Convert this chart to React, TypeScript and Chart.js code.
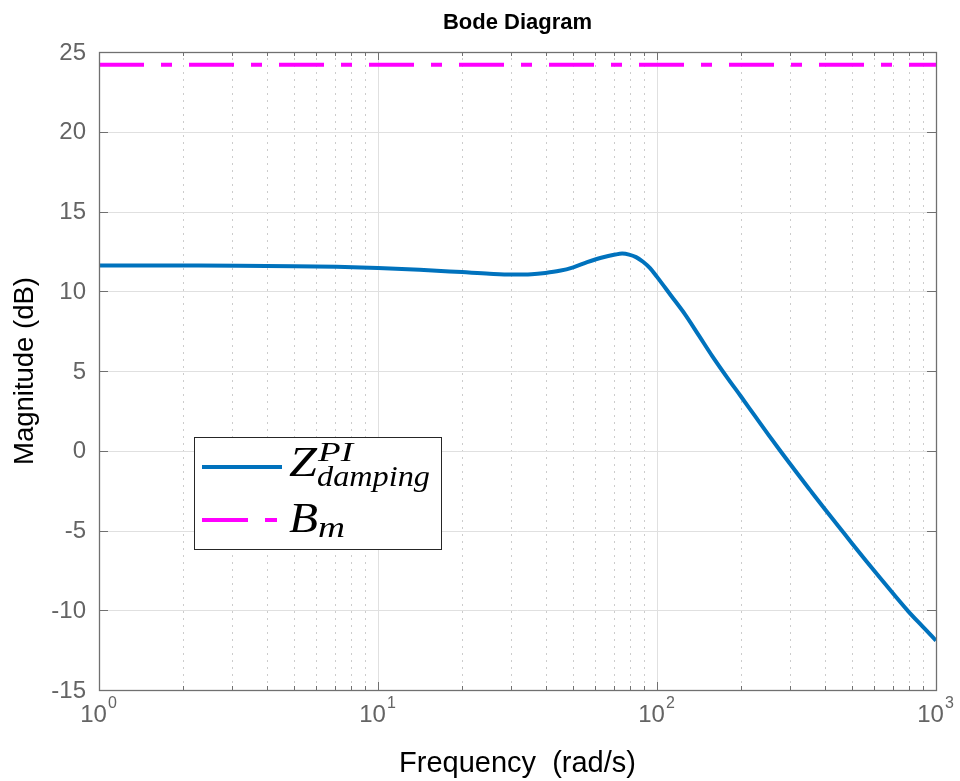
import React, { useEffect, useRef } from "react";
import { Chart, registerables } from "chart.js";

Chart.register(...registerables);

// ---- data ----
const freq = [1, 2, 3.16, 5, 7.1, 10, 14.1, 20, 25.1, 30.2, 35.5, 39.8, 44.7, 50.1, 56.2, 63.1, 70.8, 75, 79.4, 84.1, 89.1, 94.4, 100, 112, 126, 141, 158, 178, 200, 224, 251, 282, 316, 355, 398, 447, 501, 562, 631, 708, 794, 891, 1000];
const magDb = [11.62, 11.61, 11.6, 11.57, 11.53, 11.46, 11.35, 11.2, 11.1, 11.05, 11.07, 11.15, 11.28, 11.5, 11.82, 12.1, 12.3, 12.36, 12.3, 12.14, 11.85, 11.45, 10.9, 9.75, 8.55, 7.25, 5.92, 4.62, 3.4, 2.2, 1.0, -0.2, -1.35, -2.5, -3.62, -4.73, -5.83, -6.91, -7.98, -9.03, -10.05, -10.98, -11.9];
const bmFreq = [1, 1000];
const bmDb = [24.2, 24.2];

const yTicks = [-15, -10, -5, 0, 5, 10, 15, 20, 25];
const xDecadeExps = [0, 1, 2, 3];
const minorMultipliers = [2, 3, 4, 5, 6, 7, 8, 9];

const titleText = "Bode Diagram";
const xLabel = "Frequency  (rad/s)";
const yLabel = "Magnitude (dB)";
const legendBase = ["Z", "B"];
const legendSup = ["PI", ""];
const legendSub = ["damping", "m"];

const BLUE = "#0072BD";
const MAGENTA = "#FF00FF";
const SANS = "Arial, 'Liberation Sans', Helvetica, sans-serif";
const SERIF = "'Liberation Serif', 'Times New Roman', serif";

function fitText(ctx: CanvasRenderingContext2D, t: string, x: number, y: number, target: number) {
  const w = ctx.measureText(t).width;
  ctx.save();
  ctx.translate(x, y);
  ctx.scale(target / w, 1);
  ctx.fillText(t, 0, 0);
  ctx.restore();
}

const matlabPlugin = {
  id: "matlabAxes",
  beforeDraw(chart: any) {
    const ctx = chart.ctx;
    ctx.save();
    ctx.fillStyle = "#ffffff";
    ctx.fillRect(0, 0, chart.width, chart.height);
    ctx.restore();
  },
  beforeDatasetsDraw(chart: any) {
    const ctx: CanvasRenderingContext2D = chart.ctx;
    const a = chart.chartArea;
    const xs = chart.scales.x;
    const ys = chart.scales.y;
    ctx.save();
    // minor dotted grid
    ctx.strokeStyle = "#cccccc";
    ctx.lineWidth = 1;
    ctx.setLineDash([2, 5]);
    for (let d = 0; d < 3; d++) {
      for (const m of minorMultipliers) {
        const px = Math.round(xs.getPixelForValue(m * Math.pow(10, d))) + 0.5;
        ctx.beginPath();
        ctx.moveTo(px, a.bottom);
        ctx.lineTo(px, a.top);
        ctx.stroke();
      }
    }
    ctx.setLineDash([]);
    // major grid
    ctx.strokeStyle = "#e0e0e0";
    for (const e of xDecadeExps) {
      const px = Math.round(xs.getPixelForValue(Math.pow(10, e))) + 0.5;
      ctx.beginPath();
      ctx.moveTo(px, a.top);
      ctx.lineTo(px, a.bottom);
      ctx.stroke();
    }
    for (const v of yTicks) {
      const py = Math.round(ys.getPixelForValue(v)) + 0.5;
      ctx.beginPath();
      ctx.moveTo(a.left, py);
      ctx.lineTo(a.right, py);
      ctx.stroke();
    }
    ctx.restore();
  },
  afterDatasetsDraw(chart: any) {
    const ctx: CanvasRenderingContext2D = chart.ctx;
    const a = chart.chartArea;
    const xs = chart.scales.x;
    const ys = chart.scales.y;
    ctx.save();
    const axisColor = "#707070";
    ctx.strokeStyle = axisColor;
    ctx.lineWidth = 1.3;
    ctx.strokeRect(Math.round(a.left) + 0.5, Math.round(a.top) + 0.5, Math.round(a.right - a.left), Math.round(a.bottom - a.top));
    ctx.lineWidth = 1;
    const drawXTick = (v: number, len: number) => {
      const px = Math.round(xs.getPixelForValue(v)) + 0.5;
      ctx.beginPath();
      ctx.moveTo(px, a.bottom);
      ctx.lineTo(px, a.bottom - len);
      ctx.moveTo(px, a.top);
      ctx.lineTo(px, a.top + len);
      ctx.stroke();
    };
    for (let d = 0; d < 3; d++) for (const m of minorMultipliers) drawXTick(m * Math.pow(10, d), 4);
    for (const e of xDecadeExps) drawXTick(Math.pow(10, e), 8);
    for (const v of yTicks) {
      const py = Math.round(ys.getPixelForValue(v)) + 0.5;
      ctx.beginPath();
      ctx.moveTo(a.left, py);
      ctx.lineTo(a.left + 9, py);
      ctx.moveTo(a.right, py);
      ctx.lineTo(a.right - 9, py);
      ctx.stroke();
    }
    // y tick labels
    ctx.fillStyle = "#646464";
    ctx.font = `24px ${SANS}`;
    ctx.textAlign = "right";
    ctx.textBaseline = "middle";
    for (const v of yTicks) {
      ctx.fillText(String(v), a.left - 13, ys.getPixelForValue(v) + 1);
    }
    // x tick labels 10^e
    ctx.textBaseline = "alphabetic";
    ctx.textAlign = "left";
    for (const e of xDecadeExps) {
      const px = xs.getPixelForValue(Math.pow(10, e));
      ctx.font = `24px ${SANS}`;
      const wb = ctx.measureText("10").width;
      ctx.font = `16px ${SANS}`;
      const we = ctx.measureText(String(e)).width;
      const left = px - (wb + we) / 2 - 1;
      ctx.font = `24px ${SANS}`;
      ctx.fillText("10", left, 722);
      ctx.font = `16px ${SANS}`;
      ctx.fillText(String(e), left + wb + 1, 708);
    }
    // axis labels
    ctx.fillStyle = "#000000";
    ctx.font = `29px ${SANS}`;
    ctx.textAlign = "center";
    ctx.fillText(xLabel, (a.left + a.right) / 2, 772);
    ctx.save();
    ctx.font = `27.5px ${SANS}`;
    ctx.translate(33, (a.top + a.bottom) / 2);
    ctx.rotate(-Math.PI / 2);
    ctx.fillText(yLabel, 0, 0);
    ctx.restore();
    // title
    ctx.font = `bold 22px ${SANS}`;
    ctx.fillText(titleText, (a.left + a.right) / 2, 29);

    // legend
    const lx = 194, ly = 437, lw = 247, lh = 112;
    ctx.fillStyle = "#ffffff";
    ctx.fillRect(lx, ly, lw, lh);
    ctx.strokeStyle = "#262626";
    ctx.lineWidth = 1;
    ctx.strokeRect(lx + 0.5, ly + 0.5, lw, lh);
    ctx.lineWidth = 4;
    ctx.strokeStyle = BLUE;
    ctx.beginPath();
    ctx.moveTo(202, 467);
    ctx.lineTo(282, 467);
    ctx.stroke();
    ctx.strokeStyle = MAGENTA;
    ctx.setLineDash([46, 17, 12, 17]);
    ctx.beginPath();
    ctx.moveTo(202, 520);
    ctx.lineTo(277, 520);
    ctx.stroke();
    ctx.setLineDash([]);
    ctx.fillStyle = "#000000";
    ctx.textAlign = "left";
    ctx.font = `italic 42px ${SERIF}`;
    fitText(ctx, legendBase[0], 289, 476, 28);
    ctx.font = `italic 27px ${SERIF}`;
    fitText(ctx, legendSup[0], 318, 461, 35);
    ctx.font = `italic 29px ${SERIF}`;
    fitText(ctx, legendSub[0], 317, 486, 113);
    ctx.font = `italic 42px ${SERIF}`;
    fitText(ctx, legendBase[1], 289, 532, 29);
    ctx.font = `italic 29px ${SERIF}`;
    fitText(ctx, legendSub[1], 318, 537, 27);
    ctx.restore();
  },
};

export default function App() {
  const ref = useRef<HTMLCanvasElement | null>(null);
  useEffect(() => {
    if (!ref.current) return;
    const chart = new Chart(ref.current, {
      type: "line",
      data: {
        datasets: [
          {
            label: "Z_damping^PI",
            data: freq.map((f, i) => ({ x: f, y: magDb[i] })),
            borderColor: BLUE,
            borderWidth: 4,
            pointRadius: 0,
            cubicInterpolationMode: "monotone",
            fill: false,
          },
          {
            label: "B_m",
            data: bmFreq.map((f, i) => ({ x: f, y: bmDb[i] })),
            borderColor: MAGENTA,
            borderWidth: 4,
            borderDash: [45, 17, 11, 17],
            pointRadius: 0,
            fill: false,
          },
        ],
      },
      options: {
        responsive: false,
        animation: false,
        devicePixelRatio: 1,
        layout: { padding: { left: 99, right: 24, top: 52, bottom: 91 } },
        scales: {
          x: { type: "logarithmic", min: 1, max: 1000, display: false },
          y: { type: "linear", min: -15, max: 25, display: false },
        },
        plugins: {
          legend: { display: false },
          title: { display: false },
          tooltip: { enabled: false },
        },
        events: [],
      },
      plugins: [matlabPlugin],
    } as any);
    return () => chart.destroy();
  }, []);
  return (
    <div style={{ position: "absolute", left: 0, top: 0, width: 960, height: 781, background: "#fff" }}>
      <canvas ref={ref} width={960} height={781} style={{ display: "block" }} />
    </div>
  );
}
